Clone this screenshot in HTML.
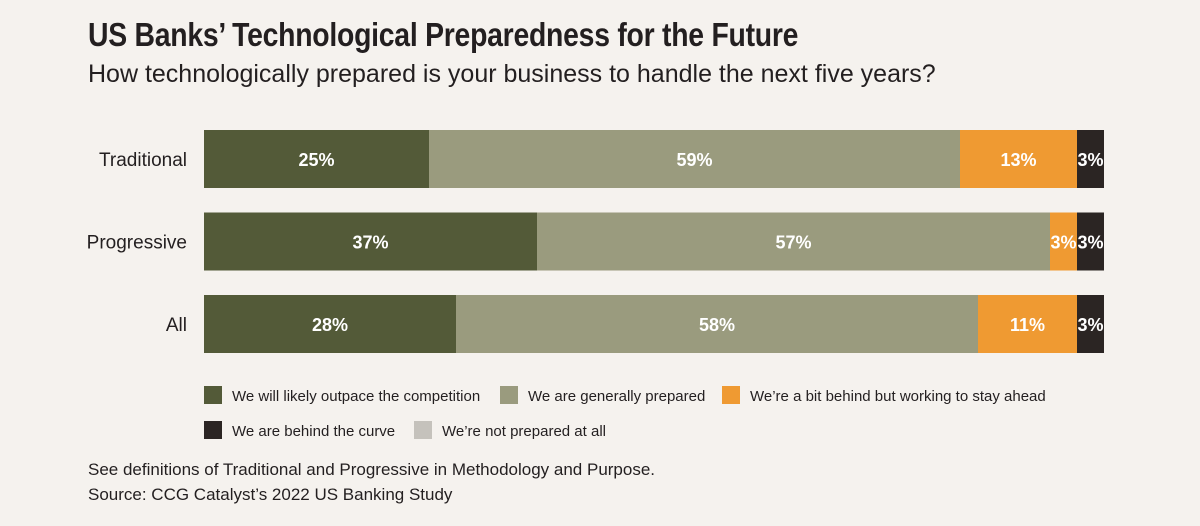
<!DOCTYPE html>
<html><head><meta charset="utf-8"><style>
body{margin:0;background:#f5f2ee;}
#c{position:relative;width:1200px;height:526px;background:#f5f2ee;font-family:"Liberation Sans",sans-serif;overflow:hidden}
.t{position:absolute;white-space:nowrap;color:#231f20}
</style></head><body>
<div id="c">
<div class="t" style="left:88px;top:16px;font-size:33px;font-weight:bold;transform:scaleX(0.86);transform-origin:left top;letter-spacing:-0.3px">US Banks’ Technological Preparedness for the Future</div>
<div class="t" style="left:88px;top:60px;font-size:25px;">How technologically prepared is your business to handle the next five years?</div>
<svg id="s" width="1200" height="526" style="position:absolute;left:0;top:0"></svg>
<div class="t" style="left:88px;top:460px;font-size:17px">See definitions of Traditional and Progressive in Methodology and Purpose.</div>
<div class="t" style="left:88px;top:485px;font-size:17px">Source: CCG Catalyst’s 2022 US Banking Study</div>
</div>
<script>
const categories=["Traditional","Progressive","All"];
const seriesNames=["We will likely outpace the competition","We are generally prepared","We’re a bit behind but working to stay ahead","We are behind the curve","We’re not prepared at all"];
const outpace=[25,37,28];
const prepared=[59,57,58];
const behindWorking=[13,3,11];
const behindCurve=[3,3,3];
const notPrepared=[0,0,0];
const series=[outpace,prepared,behindWorking,behindCurve,notPrepared];
const colors=["#535a38","#9a9b7e","#ef9a32","#2b2523","#c5c2bc"];
const ns="http://www.w3.org/2000/svg",svg=document.getElementById('s');
const x0=204,plotW=900,y0=130,step=82.5,bh=58;
const total=i=>series.reduce((a,s)=>a+s[i],0);
const xs=(v,i)=>v/total(i)*plotW;
function mk(t,a){const e=document.createElementNS(ns,t);for(const k in a)e.setAttribute(k,a[k]);svg.appendChild(e);return e;}
categories.forEach((c,i)=>{
 const y=y0+i*step;
 const l=mk('text',{x:187,y:y+bh/2+7,'text-anchor':'end','font-size':19,fill:'#231f20'});
 
 
 l.textContent=c;
 let x=x0;
 series.forEach((s,j)=>{
  const w=xs(s[i],i);if(w<=0)return;
  const r=mk('rect',{x:x,y:y,width:w,height:bh,fill:colors[j]});
  
  
  const t=mk('text',{x:x+w/2,y:y+bh/2+7,'text-anchor':'middle','font-size':18,'font-weight':'bold',fill:'#fff'});
  
  
  t.textContent=s[i]+'%';
  x+=w;
 });
});
const legPos=[[204,386],[500,386],[722,386],[204,421],[414,421]];
seriesNames.forEach((n,j)=>{
 const [lx,ly]=legPos[j];
 const r=mk('rect',{x:lx,y:ly,width:18,height:18,fill:colors[j]});
 
 
 const t=mk('text',{x:lx+28,y:ly+15,'font-size':15,fill:'#231f20'});
 
 
 t.textContent=n;
});
</script>
</body></html>
